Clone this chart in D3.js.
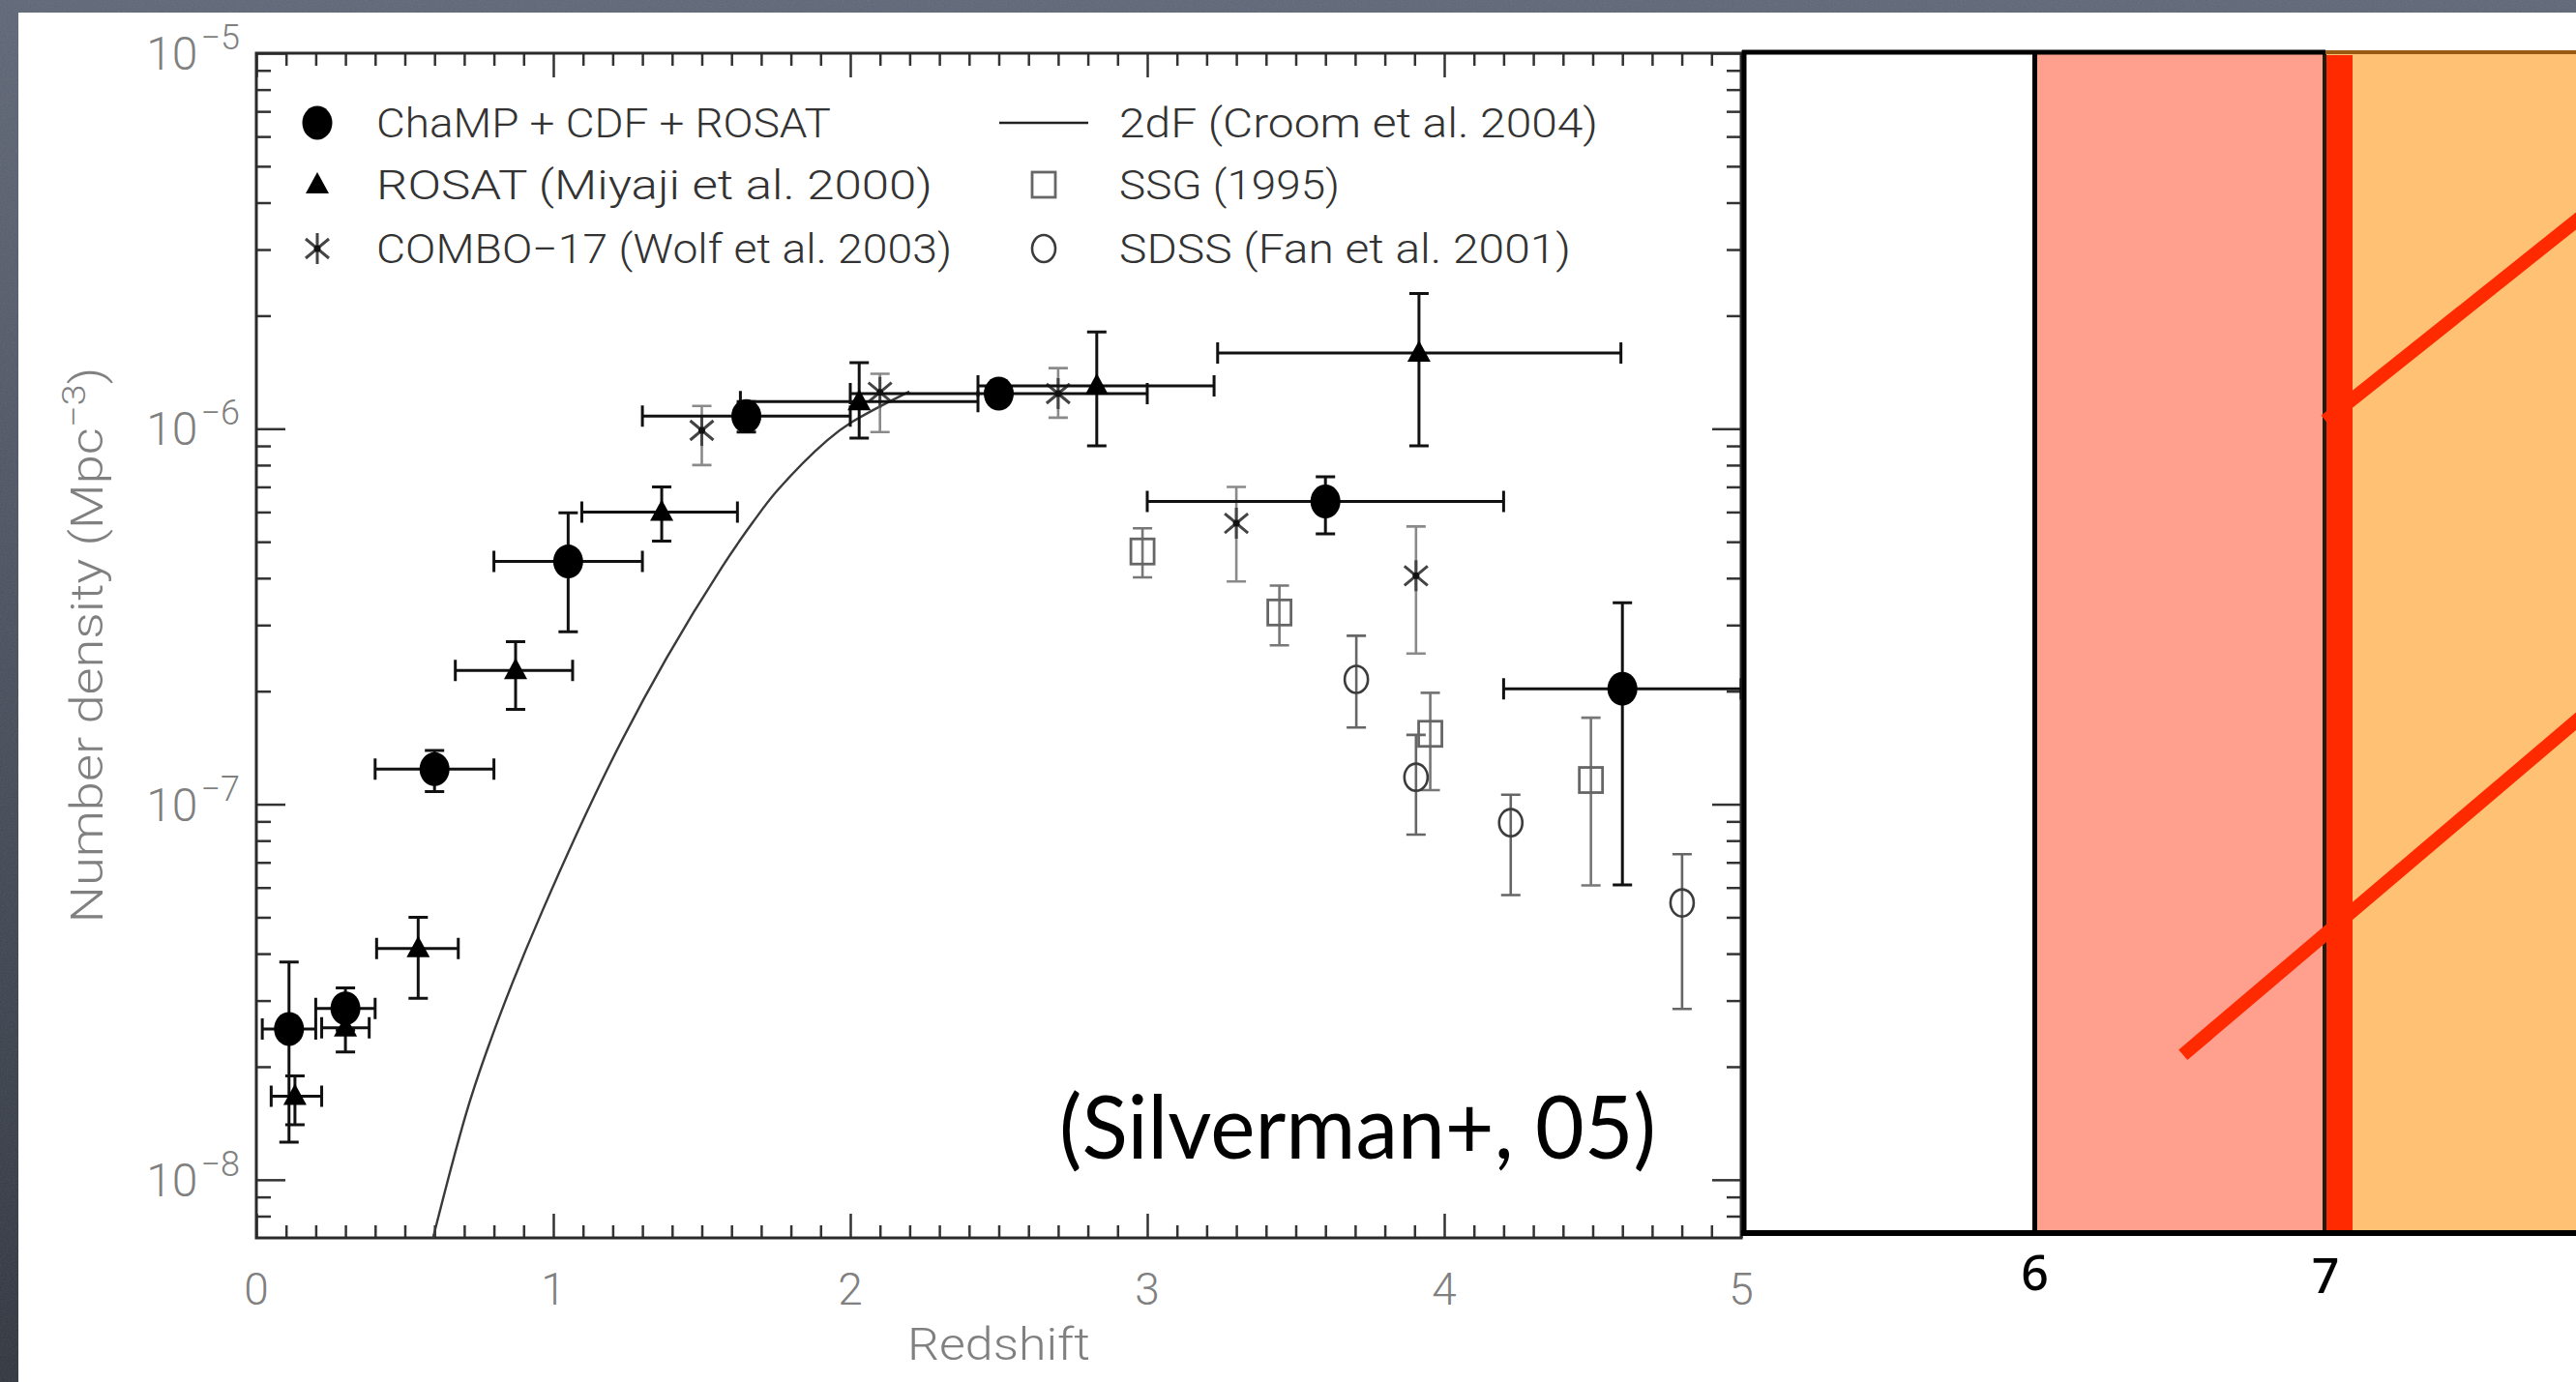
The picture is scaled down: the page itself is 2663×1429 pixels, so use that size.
<!DOCTYPE html>
<html>
<head>
<meta charset="utf-8">
<script src="https://cdn.jsdelivr.net/npm/d3@7"></script>
<style>
  html, body { margin: 0; padding: 0; overflow: hidden; background: #4e5664; }
  svg { display: block; }
</style>
</head>
<body>
<svg id="chart" width="2663" height="1429"></svg>
<script>
// ---------------- data ----------------
const xTickValues = [0, 1, 2, 3, 4, 5];
const xTickLabels = ["0", "1", "2", "3", "4", "5"];
const yDecades = [1e-8, 1e-7, 1e-6, 1e-5];
const yDecadeExponents = ["\u22128", "\u22127", "\u22126", "\u22125"];
const rightTickValues = [6, 7];
const rightTickLabels = ["6", "7"];

// ChaMP + CDF + ROSAT (filled circles): redshift bin and number density with errors
const champZ    = [0.11, 0.30, 0.60, 1.05, 1.65, 2.50, 3.60, 4.60];
const champZlo  = [0.02, 0.20, 0.40, 0.80, 1.30, 2.00, 3.00, 4.20];
const champZhi  = [0.20, 0.40, 0.80, 1.30, 2.00, 3.00, 4.20, 5.00];
const champN    = [2.52e-8, 2.86e-8, 1.24e-7, 4.43e-7, 1.08e-6, 1.24e-6, 6.40e-7, 2.03e-7];
const champNlo  = [1.26e-8, 2.50e-8, 1.08e-7, 2.88e-7, 9.80e-7, 1.19e-6, 5.25e-7, 6.10e-8];
const champNhi  = [3.80e-8, 3.24e-8, 1.39e-7, 5.97e-7, 1.18e-6, 1.29e-6, 7.45e-7, 3.44e-7];

// ROSAT, Miyaji et al. 2000 (filled triangles)
const rosatZ    = [0.13, 0.30, 0.545, 0.873, 1.365, 2.03, 2.83, 3.915];
const rosatZlo  = [0.05, 0.22, 0.405, 0.67, 1.096, 1.63, 2.43, 3.237];
const rosatZhi  = [0.22, 0.38, 0.68, 1.065, 1.62, 2.43, 3.225, 4.595];
const rosatN    = [1.67e-8, 2.54e-8, 4.13e-8, 2.27e-7, 6.00e-7, 1.18e-6, 1.30e-6, 1.59e-6];
const rosatNlo  = [1.40e-8, 2.19e-8, 3.04e-8, 1.79e-7, 5.02e-7, 9.44e-7, 9.00e-7, 9.00e-7];
const rosatNhi  = [1.89e-8, 2.90e-8, 5.00e-8, 2.71e-7, 7.00e-7, 1.50e-6, 1.81e-6, 2.29e-6];

// COMBO-17, Wolf et al. 2003 (asterisks)
const comboZ    = [1.50, 2.10, 2.70, 3.30, 3.905];
const comboN    = [9.9e-7, 1.25e-6, 1.24e-6, 5.6e-7, 4.06e-7];
const comboNlo  = [8.0e-7, 9.8e-7, 1.07e-6, 3.92e-7, 2.52e-7];
const comboNhi  = [1.15e-6, 1.40e-6, 1.45e-6, 7.0e-7, 5.49e-7];

// SSG 1995 (open squares)
const ssgZ      = [2.984, 3.445, 3.953, 4.494];
const ssgN      = [4.71e-7, 3.24e-7, 1.54e-7, 1.16e-7];
const ssgNlo    = [4.02e-7, 2.65e-7, 1.09e-7, 6.08e-8];
const ssgNhi    = [5.43e-7, 3.82e-7, 1.98e-7, 1.70e-7];

// SDSS, Fan et al. 2001 (open circles)
const sdssZ     = [3.704, 3.905, 4.224, 4.801];
const sdssN     = [2.15e-7, 1.18e-7, 8.93e-8, 5.46e-8];
const sdssNlo   = [1.60e-7, 8.30e-8, 5.73e-8, 2.85e-8];
const sdssNhi   = [2.81e-7, 1.53e-7, 1.06e-7, 7.36e-8];

// 2dF, Croom et al. 2004 (model curve)
const croomZ    = [0.595, 0.717, 0.820, 0.960, 1.192, 1.380, 1.567, 1.673, 1.754, 1.922, 2.006, 2.199];
const croomN    = [7.0e-9, 1.60e-8, 2.74e-8, 5.13e-8, 1.285e-7, 2.44e-7, 4.27e-7, 5.65e-7, 6.84e-7, 9.31e-7, 1.042e-6, 1.256e-6];

// Right-hand panel: redshift bands and the two extrapolated tracks
const bandStart  = [5, 6, 7];
const bandEnd    = [6, 7, 8];
const bandColors = ["#ffffff", "#ffa08f", "#ffc275"];
const trackZ0 = [6.51, 7.0];
const trackN0 = [2.15e-8, 1.05e-6];
const trackZ1 = [8.0, 8.0];
const trackN1 = [2.05e-7, 4.35e-6];

const legendLabels = [
  "ChaMP + CDF + ROSAT", "ROSAT (Miyaji et al. 2000)", "COMBO\u221217 (Wolf et al. 2003)",
  "2dF (Croom et al. 2004)", "SSG (1995)", "SDSS (Fan et al. 2001)"
];
const legendSymbols = ["disc", "tri", "star", "line", "square", "ring"];

// ---------------- layout ----------------
const W = 2663, H = 1429;
const PL = 265, PR = 1800, PT = 55, PB = 1280;
const plotFont = "Roboto, 'Liberation Sans', Arial, sans-serif";
const labelGrey = "#808080";
const inkDark = "#333333";

const svg = d3.select("#chart");
const defs = svg.append("defs");

// slate background grain
const grain = defs.append("filter").attr("id", "grain").attr("x", 0).attr("y", 0).attr("width", "100%").attr("height", "100%");
grain.append("feTurbulence").attr("type", "fractalNoise").attr("baseFrequency", "0.55 0.9").attr("numOctaves", 3).attr("seed", 7);
grain.append("feColorMatrix").attr("type", "saturate").attr("values", 0);

const bgGrad = defs.append("linearGradient").attr("id", "slate").attr("x1", 0).attr("y1", 0).attr("x2", 0).attr("y2", 1);
bgGrad.append("stop").attr("offset", "0%").attr("stop-color", "#5f6777");
bgGrad.append("stop").attr("offset", "100%").attr("stop-color", "#30353f");

svg.append("rect").attr("width", W).attr("height", H).attr("fill", "url(#slate)");
svg.append("rect").attr("width", W).attr("height", H).attr("filter", "url(#grain)").attr("opacity", 0.12);

// white slide panel
svg.append("rect").attr("x", 19).attr("y", 13).attr("width", W - 19).attr("height", H - 13).attr("fill", "#ffffff");

defs.append("clipPath").attr("id", "plotClip")
  .append("rect").attr("x", PL).attr("y", PT).attr("width", PR - PL).attr("height", PB - PT);

// ---------------- scales ----------------
const x = d3.scaleLinear().domain([0, 5]).range([PL, PR]);
const y = d3.scaleLog().domain([7e-9, 1e-5]).range([PB, PT]);
const xR = d3.scaleLinear().domain([5, 7]).range([1803, 2404]);

// ---------------- left plot: axes ----------------
const axes = svg.append("g").attr("class", "axes");
const minorX = d3.range(0, 51).map(i => i / 10).filter(v => v % 1 !== 0);
const minorY = [];
[1e-9, 1e-8, 1e-7, 1e-6].forEach(d => d3.range(2, 10).forEach(k => {
  const v = k * d;
  if (v > 7.05e-9 && v < 1e-5) minorY.push(v);
}));

function styleTicks(sel) {
  sel.select(".domain").remove();
  sel.selectAll(".tick line").attr("stroke", "#333").attr("stroke-width", 2.5);
  sel.selectAll(".tick text").remove();
}
axes.append("g").attr("transform", `translate(0,${PB})`)
  .call(d3.axisBottom(x).tickValues(minorX).tickSize(-13).tickFormat("")).call(styleTicks);
axes.append("g").attr("transform", `translate(0,${PB})`)
  .call(d3.axisBottom(x).tickValues(xTickValues).tickSize(-25).tickFormat("")).call(styleTicks);
axes.append("g").attr("transform", `translate(0,${PT})`)
  .call(d3.axisTop(x).tickValues(minorX).tickSize(-13).tickFormat("")).call(styleTicks);
axes.append("g").attr("transform", `translate(0,${PT})`)
  .call(d3.axisTop(x).tickValues(xTickValues).tickSize(-25).tickFormat("")).call(styleTicks);
axes.append("g").attr("transform", `translate(${PL},0)`)
  .call(d3.axisLeft(y).tickValues(minorY).tickSize(-15).tickFormat("")).call(styleTicks);
axes.append("g").attr("transform", `translate(${PL},0)`)
  .call(d3.axisLeft(y).tickValues(yDecades).tickSize(-30).tickFormat("")).call(styleTicks);
axes.append("g").attr("transform", `translate(${PR},0)`)
  .call(d3.axisRight(y).tickValues(minorY).tickSize(-15).tickFormat("")).call(styleTicks);
axes.append("g").attr("transform", `translate(${PR},0)`)
  .call(d3.axisRight(y).tickValues(yDecades).tickSize(-30).tickFormat("")).call(styleTicks);

// x tick labels
axes.selectAll("text.xlab").data(xTickValues).join("text")
  .attr("class", "xlab")
  .attr("x", d => x(d)).attr("y", PB + 69)
  .attr("text-anchor", "middle")
  .attr("font-family", plotFont).attr("font-weight", 300).attr("font-size", 46).attr("fill", labelGrey)
  .text((d, i) => xTickLabels[i]);

// y tick labels: 10 with superscript exponent
yDecades.forEach((v, i) => {
  const t = axes.append("text")
    .attr("x", 248).attr("y", y(v) + 17)
    .attr("text-anchor", "end")
    .attr("font-family", plotFont).attr("font-weight", 300).attr("font-size", 48).attr("fill", labelGrey);
  t.append("tspan").text("10");
  t.append("tspan").attr("dy", -21).attr("dx", 3).attr("font-size", 36).text(yDecadeExponents[i]);
});

// axis titles
axes.append("text")
  .attr("x", (PL + PR) / 2).attr("y", 1406)
  .attr("text-anchor", "middle")
  .attr("font-family", plotFont).attr("font-weight", 300).attr("font-size", 46).attr("fill", labelGrey)
  .attr("textLength", 189).attr("lengthAdjust", "spacingAndGlyphs")
  .text("Redshift");

const yTitle = axes.append("text")
  .attr("transform", "translate(106,667) rotate(-90)")
  .attr("text-anchor", "middle")
  .attr("font-family", plotFont).attr("font-weight", 300).attr("font-size", 46).attr("fill", labelGrey)
  .attr("textLength", 575).attr("lengthAdjust", "spacingAndGlyphs");
yTitle.append("tspan").text("Number density (Mpc");
yTitle.append("tspan").attr("dy", -18).attr("font-size", 34).text("\u22123");
yTitle.append("tspan").attr("dy", 18).text(")");

// plot frame
axes.append("rect")
  .attr("x", PL).attr("y", PT).attr("width", PR - PL).attr("height", PB - PT)
  .attr("fill", "none").attr("stroke", "#2a2a2a").attr("stroke-width", 3);

// ---------------- markers ----------------
function marker(g, type, cx, cy) {
  if (type === "disc") {
    g.append("ellipse").attr("cx", cx).attr("cy", cy).attr("rx", 15.5).attr("ry", 17.5).attr("fill", "#000");
  } else if (type === "tri") {
    g.append("path").attr("d", `M${cx},${cy - 13}L${cx + 12},${cy + 9}L${cx - 12},${cy + 9}Z`).attr("fill", "#000");
  } else if (type === "star") {
    g.append("path")
      .attr("d", `M${cx},${cy - 16}V${cy + 16}M${cx - 12},${cy - 10}L${cx + 12},${cy + 10}M${cx - 12},${cy + 10}L${cx + 12},${cy - 10}`)
      .attr("stroke", "#444").attr("stroke-width", 3).attr("fill", "none");
    g.append("circle").attr("cx", cx).attr("cy", cy).attr("r", 3.5).attr("fill", "#111");
  } else if (type === "square") {
    g.append("rect").attr("x", cx - 12).attr("y", cy - 13).attr("width", 24).attr("height", 26)
      .attr("fill", "none").attr("stroke", "#666").attr("stroke-width", 2.8);
  } else if (type === "ring") {
    g.append("ellipse").attr("cx", cx).attr("cy", cy).attr("rx", 12).attr("ry", 14)
      .attr("fill", "none").attr("stroke", "#3c3c3c").attr("stroke-width", 2.6);
  } else if (type === "line") {
    g.append("line").attr("x1", cx - 46).attr("x2", cx + 46).attr("y1", cy).attr("y2", cy)
      .attr("stroke", "#222").attr("stroke-width", 2.6);
  }
}

function yErrors(g, zs, lo, hi, color, width) {
  g.selectAll(null).data(zs.map((z, i) => ({ z, lo: lo[i], hi: hi[i] }))).join("path")
    .attr("d", d => {
      const cx = x(d.z), a = y(d.lo), b = y(d.hi);
      return `M${cx},${a}V${b}M${cx - 10},${a}h20M${cx - 10},${b}h20`;
    })
    .attr("stroke", color).attr("stroke-width", width).attr("fill", "none");
}
function xErrors(g, zlo, zhi, ns, color, width) {
  g.selectAll(null).data(ns.map((n, i) => ({ n, lo: zlo[i], hi: zhi[i] }))).join("path")
    .attr("d", d => {
      const cy = y(d.n), a = x(d.lo), b = x(d.hi);
      return `M${a},${cy}H${b}M${a},${cy - 11}v22M${b},${cy - 11}v22`;
    })
    .attr("stroke", color).attr("stroke-width", width).attr("fill", "none");
}

// ---------------- left plot: data ----------------
const dataG = svg.append("g").attr("clip-path", "url(#plotClip)");

// 2dF model curve
dataG.append("path")
  .datum(croomZ.map((z, i) => [z, croomN[i]]))
  .attr("d", d3.line().x(d => x(d[0])).y(d => y(d[1])).curve(d3.curveCatmullRom.alpha(0.5)))
  .attr("fill", "none").attr("stroke", "#3a3a3a").attr("stroke-width", 2.4);

// grey error bars of the comparison samples
yErrors(dataG, comboZ, comboNlo, comboNhi, "#8a8a8a", 2.6);
yErrors(dataG, ssgZ, ssgNlo, ssgNhi, "#777", 2.6);
yErrors(dataG, sdssZ, sdssNlo, sdssNhi, "#666", 2.6);

ssgZ.forEach((z, i) => marker(dataG, "square", x(z), y(ssgN[i])));
sdssZ.forEach((z, i) => marker(dataG, "ring", x(z), y(sdssN[i])));
comboZ.forEach((z, i) => marker(dataG, "star", x(z), y(comboN[i])));

// black error bars and markers
xErrors(dataG, rosatZlo, rosatZhi, rosatN, "#111", 3);
yErrors(dataG, rosatZ, rosatNlo, rosatNhi, "#111", 3);
xErrors(dataG, champZlo, champZhi, champN, "#111", 3);
yErrors(dataG, champZ, champNlo, champNhi, "#111", 3);
rosatZ.forEach((z, i) => marker(dataG, "tri", x(z), y(rosatN[i])));
champZ.forEach((z, i) => marker(dataG, "disc", x(z), y(champN[i])));

// ---------------- legend ----------------
const legend = svg.append("g");
const legendMarkerX = [328, 328, 328, 1079, 1079, 1079];
const legendTextX = [389, 389, 389, 1157, 1157, 1157];
const legendRowY = [127, 191, 257, 127, 191, 257];
const legendTextW = [470, 575, 595, 495, 228, 467];
legendLabels.forEach((lab, i) => {
  marker(legend, legendSymbols[i], legendMarkerX[i], legendRowY[i]);
  legend.append("text")
    .attr("x", legendTextX[i]).attr("y", legendRowY[i] + 15)
    .attr("font-family", plotFont).attr("font-weight", 300).attr("font-size", 42).attr("fill", inkDark)
    .attr("textLength", legendTextW[i]).attr("lengthAdjust", "spacingAndGlyphs")
    .text(lab);
});

// citation
svg.append("text")
  .attr("x", 1095).attr("y", 1198)
  .attr("font-family", "'Lato', 'Open Sans', sans-serif").attr("font-size", 92).attr("fill", "#000")
  .attr("textLength", 617).attr("lengthAdjust", "spacingAndGlyphs")
  .text("(Silverman+, 05)");

// ---------------- right panel ----------------
const RT = 56, RB = 1272;
const right = svg.append("g");
right.selectAll("rect.band").data(bandStart).join("rect")
  .attr("class", "band")
  .attr("x", d => xR(d)).attr("y", RT)
  .attr("width", (d, i) => xR(bandEnd[i]) - xR(d)).attr("height", RB - RT)
  .attr("fill", (d, i) => bandColors[i]);

right.append("line").attr("x1", xR(6)).attr("x2", xR(6)).attr("y1", RT).attr("y2", RB)
  .attr("stroke", "#000").attr("stroke-width", 5);
right.append("line").attr("x1", xR(7) - 1).attr("x2", xR(7) - 1).attr("y1", RT).attr("y2", RB)
  .attr("stroke", "#1e1e10").attr("stroke-width", 4);

// extrapolated tracks
right.selectAll("line.track").data(trackZ0).join("line")
  .attr("class", "track")
  .attr("x1", d => xR(d)).attr("y1", (d, i) => y(trackN0[i]))
  .attr("x2", (d, i) => xR(trackZ1[i])).attr("y2", (d, i) => y(trackN1[i]))
  .attr("stroke", "#ff2a00").attr("stroke-width", 14).attr("stroke-linecap", "butt");

// z = 7 marker bar
right.append("rect").attr("x", xR(7) + 1).attr("y", RT + 1).attr("width", 27).attr("height", RB - RT - 1)
  .attr("fill", "#ff2a00");

// frame
right.append("line").attr("x1", 1801).attr("x2", xR(7)).attr("y1", 54).attr("y2", 54)
  .attr("stroke", "#000").attr("stroke-width", 5);
right.append("line").attr("x1", xR(7)).attr("x2", W).attr("y1", 54).attr("y2", 54)
  .attr("stroke", "#9a5a12").attr("stroke-width", 4);
right.append("line").attr("x1", xR(5)).attr("x2", xR(5)).attr("y1", 52).attr("y2", 1278)
  .attr("stroke", "#000").attr("stroke-width", 5);
right.append("line").attr("x1", PR).attr("x2", W).attr("y1", 1275).attr("y2", 1275)
  .attr("stroke", "#000").attr("stroke-width", 6);

right.selectAll("text.rlab").data(rightTickValues).join("text")
  .attr("class", "rlab")
  .attr("x", d => xR(d)).attr("y", (d, i) => 1334 + i * 3)
  .attr("text-anchor", "middle")
  .attr("font-family", "'Noto Sans', 'DejaVu Sans', sans-serif").attr("font-size", 50).attr("font-weight", 500)
  .attr("fill", "#000")
  .text((d, i) => rightTickLabels[i]);
</script>
</body>
</html>
